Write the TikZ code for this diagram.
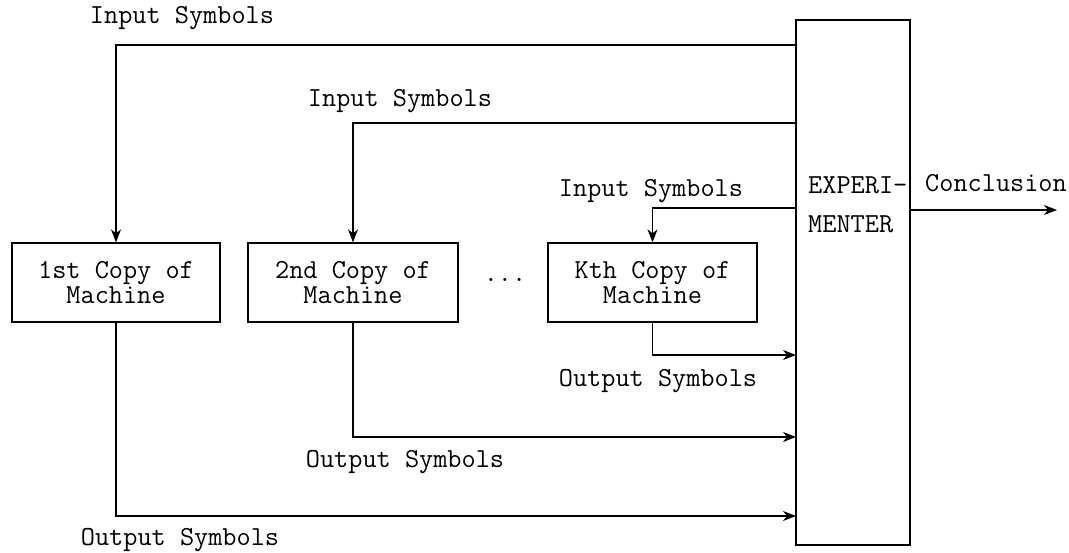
\documentclass[tikz,border=0pt]{standalone}
\usetikzlibrary{arrows.meta}
\begin{document}
\begin{tikzpicture}[x=1pt,y=-1pt,
  every node/.style={font=\ttfamily\fontsize{27.5}{25}\selectfont},
  box/.style={draw,line width=1.3pt,inner sep=0pt,align=center,minimum height=79pt},
  conn/.style={line width=1.3pt},
  arr/.style={conn,-{Stealth[length=13pt,width=10pt,inset=4pt]}},
  lbl/.style={inner sep=0pt}]
\useasboundingbox (0,0) rectangle (1069,553);
\node[box,minimum width=114pt,minimum height=525pt] (exp) at (853,282.5) {};
\node[lbl,anchor=west,align=left] (expt) at (808,205) {EXPERI-\\[14pt]MENTER};
\node[box,minimum width=208pt] (m1) at (116,282.5) {1st Copy of\\Machine};
\node[box,minimum width=210pt] (m2) at (353,282.5) {2nd Copy of\\Machine};
\node[box,minimum width=209pt] (mk) at (652.5,282.5) {Kth Copy of\\Machine};
\node[lbl] (dots) at (505,280) {...};
% coordinates
\coordinate (i1) at (796,45);
\coordinate (i2) at (796,123);
\coordinate (i3) at (796,208);
\coordinate (o3) at (796,355);
\coordinate (o2) at (796,437);
\coordinate (o1) at (796,516);
\coordinate (c1) at (1057,210);
% connectors
\draw[arr] (i1) -| (m1.north);
\draw[arr] (i2) -| (m2.north);
\draw[arr] (i3) -| (mk.north);
\draw[arr] (mk.south) |- (o3);
\draw[arr] (m2.south) |- (o2);
\draw[arr] (m1.south) |- (o1);
\draw[arr] (exp.east |- c1) -- (c1);
% labels
\node[lbl] (li1) at (182,18) {Input Symbols};
\node[lbl] (li2) at (400,101) {Input Symbols};
\node[lbl] (li3) at (651,191) {Input Symbols};
\node[lbl] (lo3) at (658,381) {Output Symbols};
\node[lbl] (lo2) at (405,462) {Output Symbols};
\node[lbl] (lo1) at (180,540) {Output Symbols};
\node[lbl] (lc) at (996,183) {Conclusion};
\end{tikzpicture}
\end{document}
